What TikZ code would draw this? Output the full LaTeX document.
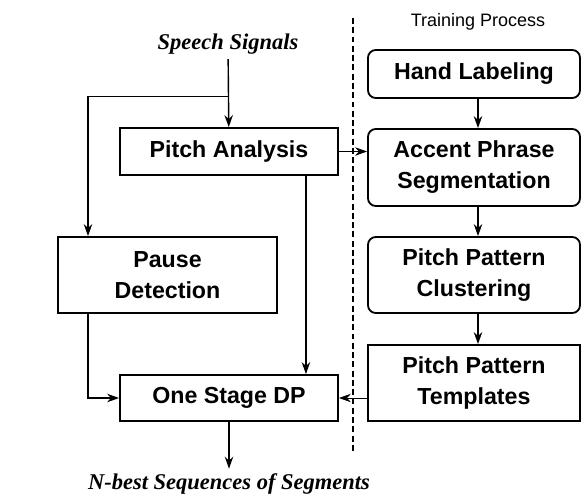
\documentclass[tikz,border=0pt]{standalone}
\usepackage{fontspec}
\setmainfont{Liberation Sans}
\newfontfamily\serifit{Liberation Serif}
\usetikzlibrary{arrows.meta}
\usetikzlibrary{calc}

\tikzset{
	blk/.style={draw,line width=1.3pt,align=center,inner sep=0pt,
		font=\fontsize{16.5}{22}\selectfont\bfseries},
	rblk/.style={blk,rounded corners=5.5pt},
	flow/.style={line width=1pt,-{Stealth[length=8.5pt,width=6pt]}},
	thinflow/.style={line width=0.6pt,-{Stealth[length=8.5pt,width=6pt]}},
	sig/.style={font=\fontsize{16}{19}\selectfont\serifit\bfseries\itshape}
}

\begin{document}
\begin{tikzpicture}[x=0.025cm,y=-0.025cm]
	\useasboundingbox (0,0) rectangle (581,494);

	\node[sig] (speech) at (228,44) {Speech Signals};
	\node[sig] (nbest) at (229,484) {N-best Sequences of Segments};
	\node[font=\fontsize{12.8}{15}\selectfont] (train) at (478,22) {Training Process};

	\node[blk,minimum width=218*0.025cm,minimum height=47*0.025cm] (pitch) at (229,151.5) {Pitch Analysis};
	\node[blk,minimum width=219*0.025cm,minimum height=76*0.025cm] (pause) at (167.5,275) {Pause\\Detection};
	\node[blk,minimum width=218*0.025cm,minimum height=46*0.025cm] (dp) at (229,398) {One Stage DP};

	\node[rblk,minimum width=212*0.025cm,minimum height=48*0.025cm] (hand) at (474,74) {Hand Labeling};
	\node[rblk,minimum width=212*0.025cm,minimum height=77*0.025cm] (accent) at (474,167.5) {Accent Phrase\\Segmentation};
	\node[rblk,minimum width=212*0.025cm,minimum height=76*0.025cm] (cluster) at (474,275) {Pitch Pattern\\Clustering};
	\node[blk,minimum width=212*0.025cm,minimum height=76*0.025cm] (templ) at (474,383) {Pitch Pattern\\Templates};

	% separator
	\coordinate (septop) at (353,18);
	\coordinate (sepbot) at (353,452);
	\draw[line width=1pt,dash pattern=on 4.2pt off 2.4pt] (septop) -- (sepbot);

	% left column
	\coordinate (split) at ($(speech.south)!0.55!(pitch.north)$);
	\draw[flow] (speech) -- (pitch);
	\draw[flow] (split) -| ($(pause.north west)!0.14!(pause.north east)$);
	\draw[flow] ($(pause.south west)!0.14!(pause.south east)$) |- (dp.west);
	\coordinate (pout) at ($(pitch.south west)!0.85!(pitch.south east)$);
	\draw[flow] (pout) -- (pout |- dp.north);
	\draw[flow] (dp) -- (nbest);

	% right column
	\draw[flow] ([xshift=4*0.025cm]hand.south) -- ([xshift=4*0.025cm]accent.north);
	\draw[flow] ([xshift=4*0.025cm]accent.south) -- ([xshift=4*0.025cm]cluster.north);
	\draw[flow] ([xshift=4*0.025cm]cluster.south) -- ([xshift=4*0.025cm]templ.north);
	\draw[thinflow] (pitch.east) -- (pitch.east -| accent.west);
	\draw[thinflow] (templ.west |- dp.east) -- (dp.east);
\end{tikzpicture}
\end{document}
